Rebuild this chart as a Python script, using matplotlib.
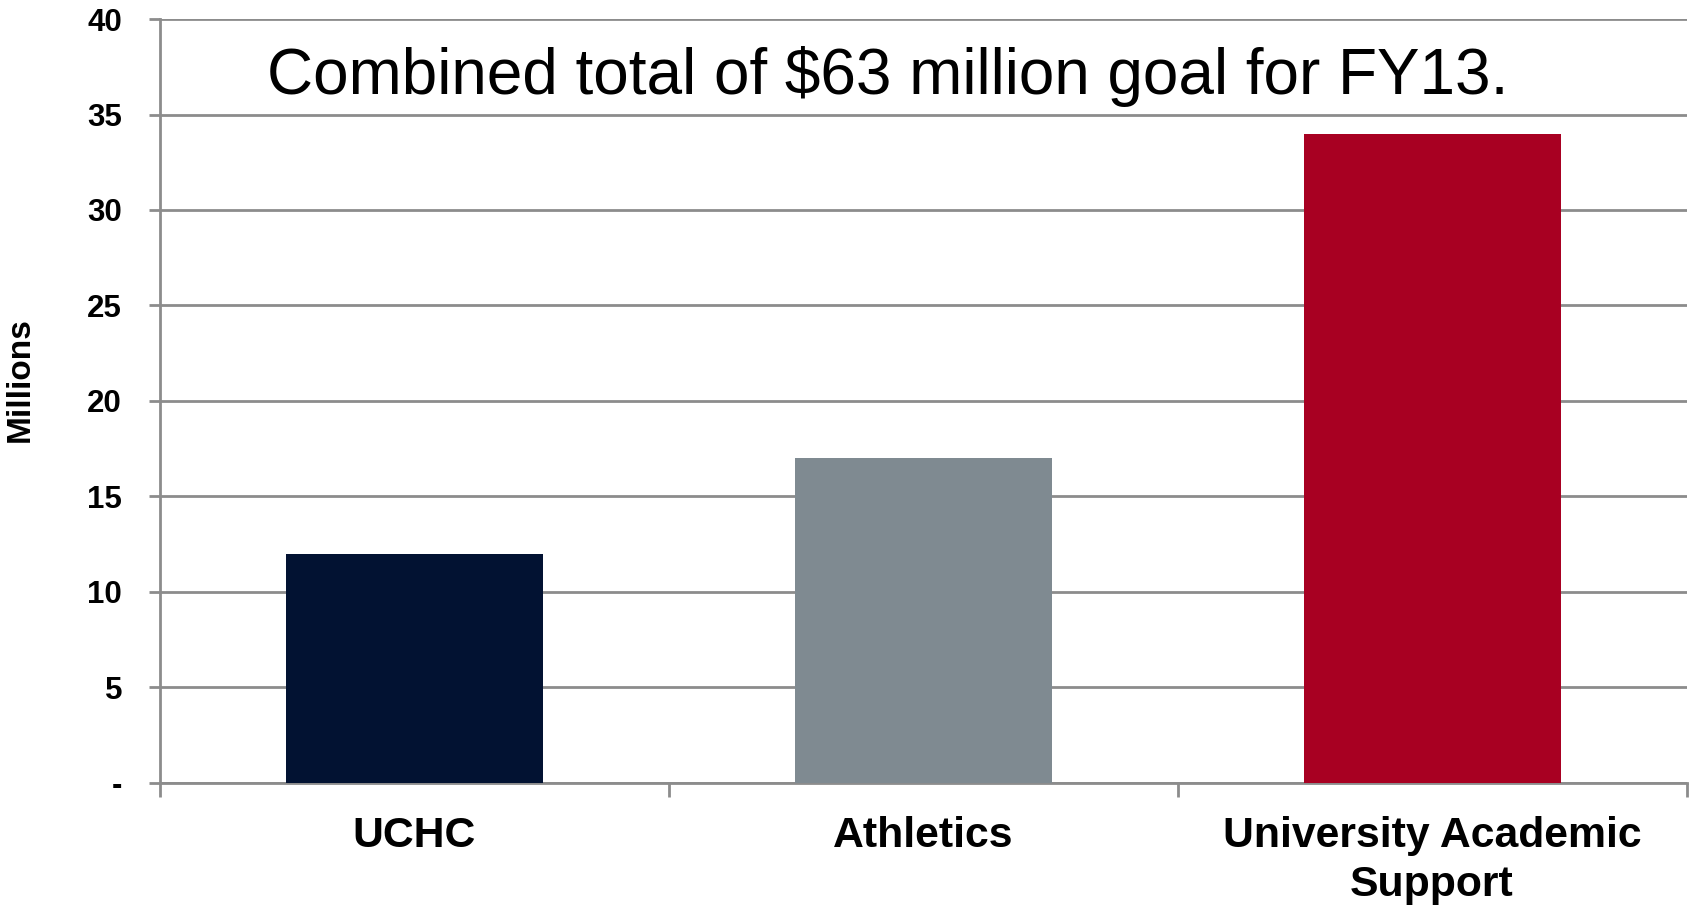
import matplotlib
matplotlib.use('Agg')
import matplotlib.pyplot as plt

# Data (millions of dollars)
categories = ['UCHC', 'Athletics', 'University Academic\nSupport']
goals = [12, 17, 34]
bar_colors = ['#021232', '#7F8A91', '#A80022']
yticks = [0, 5, 10, 15, 20, 25, 30, 35, 40]
ytick_labels = ['-', '5', '10', '15', '20', '25', '30', '35', '40']
title_text = 'Combined total of $63 million goal for FY13.'

plt.rcParams['font.family'] = ['Liberation Sans', 'DejaVu Sans']
grid_color = '#8C8C8C'

fig = plt.figure(figsize=(16.9, 9.08), dpi=100)
ax = fig.add_axes([0.0944, 0.138, 0.9036, 0.841])

x = range(len(categories))
ax.bar(x, goals, width=0.505, color=bar_colors, zorder=3)

ax.set_xlim(-0.5, len(categories) - 0.5)
ax.set_ylim(0, 40)
ax.set_yticks(yticks)
ax.set_yticklabels(ytick_labels, fontsize=22.5, fontweight='bold')
ax.set_xticks(list(x))
ax.set_xticklabels(categories, fontsize=30.8, fontweight='bold', linespacing=1.3)

# category boundary ticks like the spreadsheet style
ax.set_xticks([i - 0.5 for i in range(len(categories) + 1)], minor=True)
ax.tick_params(axis='x', which='major', length=0, pad=24)
ax.tick_params(axis='x', which='minor', length=10, width=2, color=grid_color, direction='out')
ax.tick_params(axis='y', length=8, width=2, color=grid_color, pad=19)

ax.grid(axis='y', color=grid_color, linewidth=2, zorder=0)
ax.set_axisbelow(True)
for side in ['top', 'right']:
    ax.spines[side].set_visible(False)
for side in ['left', 'bottom']:
    ax.spines[side].set_color(grid_color)
    ax.spines[side].set_linewidth(2)

ax.set_ylabel('Millions', fontsize=24, fontweight='bold')
ax.yaxis.set_label_coords(-0.081, 0.528)

ax.text(0.93, 36.05, title_text, fontsize=46, ha='center', va='baseline', zorder=4)

fig.savefig('out.png', dpi=100, facecolor='white')
